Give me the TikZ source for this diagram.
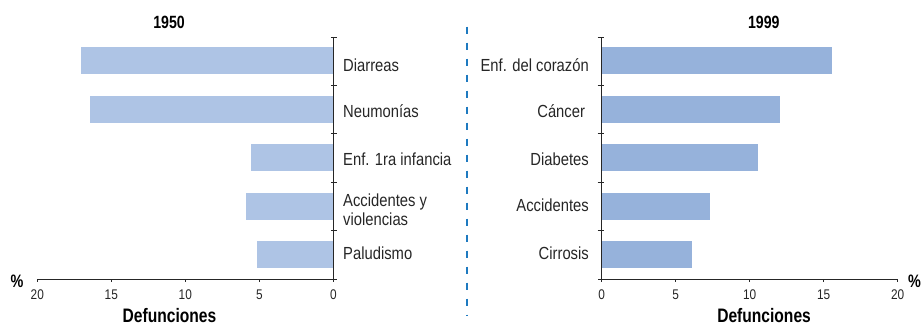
\documentclass[tikz,border=0pt]{standalone}
\usepackage{fontspec}
\setmainfont{Liberation Sans}[FakeStretch=0.845,BoldFeatures={FakeStretch=0.80}]
\usepackage{tikz}
\definecolor{azulclaro}{RGB}{174,196,229}
\definecolor{azul}{RGB}{150,178,219}
\definecolor{azulguion}{RGB}{30,122,192}
\definecolor{gristexto}{RGB}{38,38,38}
\tikzset{
  eje/.style={color=gristexto, line width=1pt},
  causa/.style={font=\fontsize{17.5}{18.5}\selectfont, text=gristexto, inner sep=0pt},
  cifra/.style={font=\fontsize{14}{14}\selectfont, text=gristexto, inner sep=0pt, anchor=base},
  negrita/.style={font=\fontsize{19.5}{19.5}\selectfont\bfseries, inner sep=0pt, anchor=base},
}

\begin{document}
\begin{tikzpicture}
\useasboundingbox (0,0) rectangle (922pt,326pt);
% 1950
\begin{scope}[shift={(333.3pt,46.7pt)}, x=14.8pt, y=48.45pt]
\node[negrita, font=\fontsize{17.7}{17.7}\selectfont\bfseries, yshift=8.7pt] (tit50) at (-11.1,5) {1950};
\fill[azulclaro] (0,4.23) rectangle (-17.05,4.79);
\fill[azulclaro] (0,3.23) rectangle (-16.44,3.79);
\fill[azulclaro] (0,2.23) rectangle (-5.56,2.79);
\fill[azulclaro] (0,1.23) rectangle (-5.90,1.79);
\fill[azulclaro] (0,0.23) rectangle (-5.16,0.79);
\draw[eje] (0,5) -- (0,0) -- (-20,0);
\draw[eje] (0,5) ++(-2.5pt,0) -- ++(6.5pt,0);
\draw[eje] (0,4) ++(-2.5pt,0) -- ++(6.5pt,0);
\draw[eje] (0,3) ++(-2.5pt,0) -- ++(6.5pt,0);
\draw[eje] (0,2) ++(-2.5pt,0) -- ++(6.5pt,0);
\draw[eje] (0,1) ++(-2.5pt,0) -- ++(6.5pt,0);
\draw[eje] (0,0) -- ++(4pt,0);
\draw[eje] (-20,0) -- ++(0,-2.5pt);
\draw[eje] (-15,0) -- ++(0,-2.5pt);
\draw[eje] (-10,0) -- ++(0,-2.5pt);
\draw[eje] (-5,0) -- ++(0,-2.5pt);
\draw[eje] (0,0) -- ++(0,-2.5pt);
\node[causa, anchor=base west, xshift=9.7pt] (diarreas) at (0,4.29) {Diarreas};
\node[causa, anchor=base west, xshift=9.7pt] (neumonias) at (0,3.34) {Neumonías};
\node[causa, anchor=base west, xshift=9.7pt] (infancia) at (0,2.35) {Enf. 1ra infancia};
\node[causa, anchor=base west, xshift=9.7pt, align=left] (violencias) at (0,1.12) {Accidentes y\\violencias};
\node[causa, anchor=base west, xshift=9.7pt] (paludismo) at (0,0.4) {Paludismo};
\node[cifra, yshift=-20pt] (i20) at (-20,0) {20};
\node[cifra, yshift=-20pt] (i15) at (-15,0) {15};
\node[cifra, yshift=-20pt] (i10) at (-10,0) {10};
\node[cifra, yshift=-20pt] (i5) at (-5,0) {5};
\node[cifra, yshift=-20pt] (i0) at (0,0) {0};
\node[negrita, font=\fontsize{18}{18}\selectfont\bfseries, yshift=-8.7pt] (pizq) at (-21.37,0) {\%};
\node[negrita, yshift=-43.4pt] (defizq) at (-11.07,0) {Defunciones};
\end{scope}
% 1999
\begin{scope}[shift={(601.7pt,46.7pt)}, x=14.8pt, y=48.45pt]
\node[negrita, font=\fontsize{17.7}{17.7}\selectfont\bfseries, yshift=8.7pt] (tit99) at (10.95,5) {1999};
\fill[azul] (0,4.23) rectangle (15.56,4.79);
\fill[azul] (0,3.23) rectangle (12.05,3.79);
\fill[azul] (0,2.23) rectangle (10.56,2.79);
\fill[azul] (0,1.23) rectangle (7.32,1.79);
\fill[azul] (0,0.23) rectangle (6.10,0.79);
\draw[eje] (0,5) -- (0,0) -- (20,0);
\draw[eje] (0,5) ++(-4pt,0) -- ++(6.5pt,0);
\draw[eje] (0,4) ++(-4pt,0) -- ++(6.5pt,0);
\draw[eje] (0,3) ++(-4pt,0) -- ++(6.5pt,0);
\draw[eje] (0,2) ++(-4pt,0) -- ++(6.5pt,0);
\draw[eje] (0,1) ++(-4pt,0) -- ++(6.5pt,0);
\draw[eje] (0,0) -- ++(-4pt,0);
\draw[eje] (0,0) -- ++(0,-2.5pt);
\draw[eje] (5,0) -- ++(0,-2.5pt);
\draw[eje] (10,0) -- ++(0,-2.5pt);
\draw[eje] (15,0) -- ++(0,-2.5pt);
\draw[eje] (20,0) -- ++(0,-2.5pt);
\node[causa, anchor=base east, xshift=-12.7pt] (corazon) at (0,4.29) {Enf. del corazón};
\node[causa, anchor=base east, xshift=-16.5pt] (cancer) at (0,3.34) {Cáncer};
\node[causa, anchor=base east, xshift=-12.7pt] (diabetes) at (0,2.35) {Diabetes};
\node[causa, anchor=base east, xshift=-12.7pt] (accidentes) at (0,1.40) {Accidentes};
\node[causa, anchor=base east, xshift=-12.7pt] (cirrosis) at (0,0.4) {Cirrosis};
\node[cifra, yshift=-20pt] (d0) at (0,0) {0};
\node[cifra, yshift=-20pt] (d5) at (5,0) {5};
\node[cifra, yshift=-20pt] (d10) at (10,0) {10};
\node[cifra, yshift=-20pt] (d15) at (15,0) {15};
\node[cifra, yshift=-20pt] (d20) at (20,0) {20};
\node[negrita, font=\fontsize{18}{18}\selectfont\bfseries, yshift=-8.7pt] (pder) at (21.14,0) {\%};
\node[negrita, yshift=-43.4pt] (defder) at (10.97,0) {Defunciones};
\end{scope}
\draw[azulguion, line width=1.8pt, dash pattern=on 7.5pt off 8.5pt] (467.3pt,299.3pt) -- (467.3pt,10pt);
\end{tikzpicture}
\end{document}
